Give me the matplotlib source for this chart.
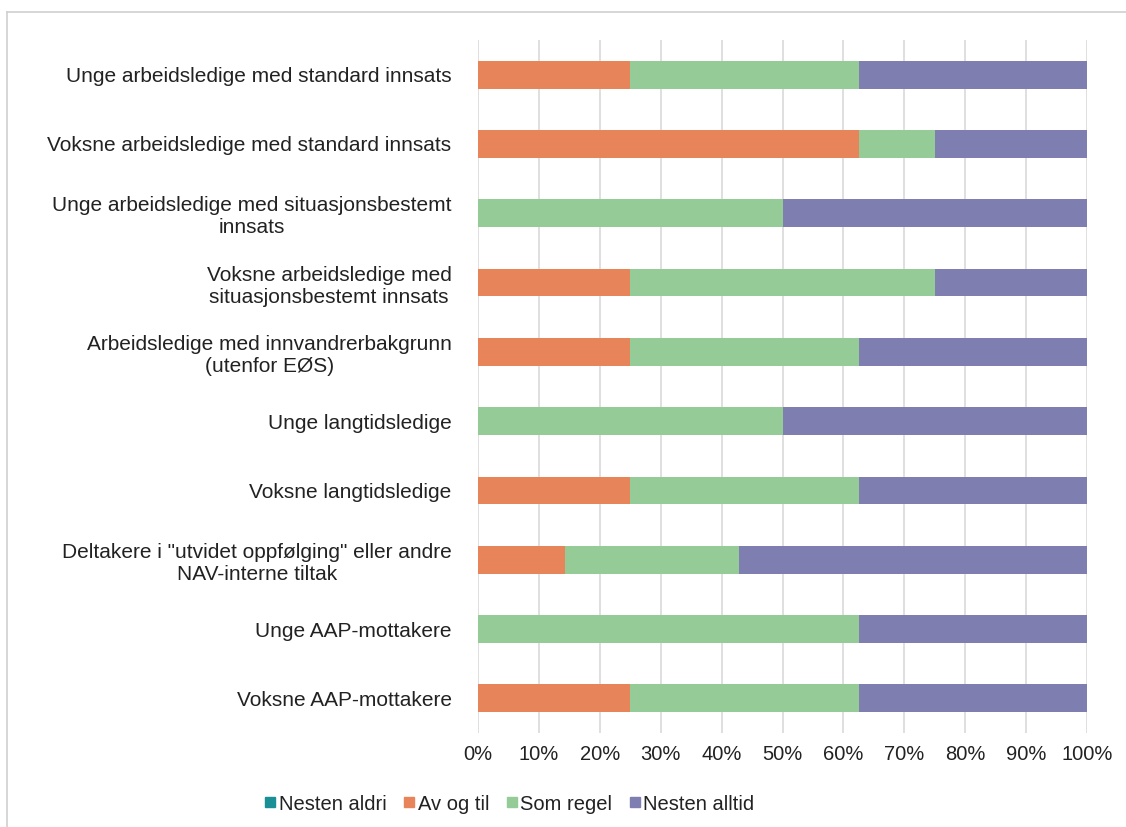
import numpy as np
import matplotlib
matplotlib.use("Agg")
import matplotlib.pyplot as plt
from matplotlib.lines import Line2D

plt.rcParams['font.family'] = ['Liberation Sans', 'DejaVu Sans']

categories = [
    "Unge arbeidsledige med standard innsats",
    "Voksne arbeidsledige med standard innsats",
    "Unge arbeidsledige med situasjonsbestemt\ninnsats",
    "Voksne arbeidsledige med\nsituasjonsbestemt innsats",
    "Arbeidsledige med innvandrerbakgrunn\n(utenfor EØS)",
    "Unge langtidsledige",
    "Voksne langtidsledige",
    "Deltakere i \"utvidet oppfølging\" eller andre\nNAV-interne tiltak",
    "Unge AAP-mottakere",
    "Voksne AAP-mottakere",
]
nesten_aldri = [0, 0, 0, 0, 0, 0, 0, 0, 0, 0]
av_og_til = [25, 62.5, 0, 25, 25, 0, 25, 14.29, 0, 25]
som_regel = [37.5, 12.5, 50, 50, 37.5, 50, 37.5, 28.57, 62.5, 37.5]
nesten_alltid = [37.5, 25, 50, 25, 37.5, 50, 37.5, 57.14, 37.5, 37.5]

series_names = ["Nesten aldri", "Av og til", "Som regel", "Nesten alltid"]
colors = ["#1A9096", "#E8845A", "#95CB97", "#7E7FB0"]
fs = 15

fig = plt.figure(figsize=(11.26, 8.27), dpi=100)
ax = fig.add_axes([478/1126, 1 - 733/827, (1087-478)/1126, (733-40)/827])

y = np.arange(len(categories))
left = np.zeros(len(categories))
for name, vals, c in zip(series_names, [nesten_aldri, av_og_til, som_regel, nesten_alltid], colors):
    vals = np.array(vals)
    ax.barh(y, vals, left=left, height=0.4, color=c, label=name, zorder=3)
    left += vals

ax.set_ylim(len(categories) - 0.5, -0.5)
ax.set_xlim(0, 100)
ax.set_yticks(y)
ax.set_yticklabels(categories, fontsize=fs, color='#222222', multialignment='center')
ax.set_xticks(np.arange(0, 101, 10))
ax.set_xticklabels([f"{v}%" for v in range(0, 101, 10)], fontsize=14.5, color='#222222')
ax.tick_params(axis='y', length=0, pad=19)
ax.tick_params(axis='x', length=0, pad=9)
ax.grid(axis='x', color='#D9D9D9', linewidth=1.2, zorder=0)
for s in ax.spines.values():
    s.set_visible(False)

handles = [Line2D([0], [0], marker='s', linestyle='none', markersize=7, color=c) for c in colors]
fig.legend(handles, series_names, loc='center', bbox_to_anchor=(510/1126, 1 - 804/827), ncol=4,
           frameon=False, fontsize=14.5, handlelength=0.5, handletextpad=0.15, columnspacing=0.9,
           labelcolor='#222222')

# outer chart frame
fig.add_artist(Line2D([7/1126, 7/1126], [0, 1 - 12/827], transform=fig.transFigure, color='#D0D0D0', linewidth=1.2))
fig.add_artist(Line2D([7/1126, 1], [1 - 12/827, 1 - 12/827], transform=fig.transFigure, color='#D0D0D0', linewidth=1.2))

fig.savefig("out.png", dpi=100)
